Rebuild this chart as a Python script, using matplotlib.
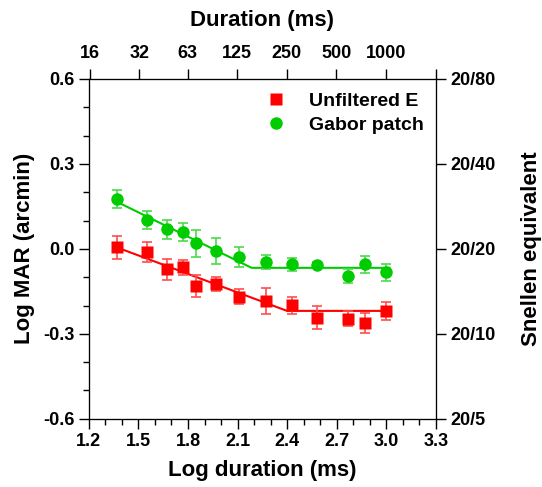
import matplotlib
matplotlib.use("Agg")
import matplotlib.pyplot as plt
from matplotlib.ticker import MultipleLocator

plt.rcParams['font.family'] = ['Liberation Sans', 'DejaVu Sans']
plt.rcParams['font.weight'] = 'bold'

# data
log_dur = [1.37, 1.55, 1.675, 1.77, 1.85, 1.97, 2.11, 2.275, 2.43, 2.58, 2.77, 2.87, 3.00]
mar_e = [0.005, -0.010, -0.072, -0.065, -0.131, -0.124, -0.169, -0.184, -0.199, -0.243, -0.246, -0.261, -0.219]
err_e = [0.040, 0.035, 0.037, 0.027, 0.040, 0.024, 0.027, 0.047, 0.030, 0.040, 0.025, 0.035, 0.033]
mar_g = [0.175, 0.102, 0.069, 0.058, 0.019, -0.007, -0.030, -0.046, -0.055, -0.058, -0.096, -0.055, -0.082]
err_g = [0.032, 0.032, 0.034, 0.032, 0.046, 0.046, 0.035, 0.026, 0.024, 0.010, 0.025, 0.030, 0.030]

# two-segment fits (start, knee, end)
fit_x_e = [1.37, 2.40, 3.02]
fit_y_e = [0.005, -0.219, -0.219]
fit_x_g = [1.37, 2.185, 3.02]
fit_y_g = [0.166, -0.067, -0.067]

top_ms = [16, 32, 63, 125, 250, 500, 1000]
top_pos = [1.204, 1.505, 1.799, 2.097, 2.398, 2.699, 3.0]
snellen = ['20/80', '20/40', '20/20', '20/10', '20/5']
snellen_pos = [0.6, 0.3, 0.0, -0.3, -0.6]

red = '#ff0000'
green = '#00cc00'

fig = plt.figure(figsize=(5.42, 4.87), dpi=100)
ax = fig.add_axes([0.164, 0.140, 0.640, 0.698])

ax.plot(fit_x_e, fit_y_e, color=red, lw=1.5, zorder=2)
ax.plot(fit_x_g, fit_y_g, color=green, lw=1.5, zorder=2)
ax.errorbar(log_dur, mar_e, yerr=err_e, fmt='none', ecolor=(1, 0.3, 0.3), elinewidth=1.2,
            capsize=3.5, capthick=1.2, zorder=3)
ax.errorbar(log_dur, mar_g, yerr=err_g, fmt='none', ecolor=(0.3, 0.85, 0.3), elinewidth=1.2,
            capsize=3.5, capthick=1.2, zorder=3)
ax.plot(log_dur, mar_e, 's', color=red, ms=8, mec='none', zorder=4, label='Unfiltered E')
ax.plot(log_dur, mar_g, 'o', color=green, ms=9, mec='none', zorder=4, label='Gabor patch')

ax.set_xlim(1.2, 3.3)
ax.set_ylim(-0.6, 0.6)
ax.xaxis.set_major_locator(MultipleLocator(0.3))
ax.xaxis.set_minor_locator(MultipleLocator(0.1))
ax.yaxis.set_major_locator(MultipleLocator(0.3))
ax.yaxis.set_minor_locator(MultipleLocator(0.1))
ax.set_xticklabels([f'{v:.1f}' for v in ax.get_xticks()])
ax.set_yticklabels([f'{v:.1f}' for v in ax.get_yticks()])
ax.tick_params(which='major', length=7, width=1, labelsize=13, direction='out')
ax.tick_params(which='minor', length=4, width=1, direction='out')
ax.set_xlabel('Log duration (ms)', fontsize=16, fontweight='bold', labelpad=7)
ax.set_ylabel('Log MAR (arcmin)', fontsize=16, fontweight='bold', labelpad=6)

leg = ax.legend(loc='upper right', frameon=False, fontsize=14, handletextpad=0.7,
                borderaxespad=0.2, labelspacing=0.35, bbox_to_anchor=(1.0, 0.995))

axt = ax.twiny()
axt.set_xlim(ax.get_xlim())
axt.set_xticks(top_pos + [3.3])
axt.set_xticklabels([str(v) for v in top_ms] + [''])
axt.tick_params(length=7, width=1, labelsize=13, direction='out', pad=5)
axt.set_xlabel('Duration (ms)', fontsize=16, fontweight='bold', labelpad=14)

axr = ax.twinx()
axr.set_ylim(ax.get_ylim())
axr.set_yticks(snellen_pos)
axr.set_yticklabels(snellen)
axr.tick_params(length=7, width=1, labelsize=13, direction='out')
axr.set_ylabel('Snellen equivalent', fontsize=16, fontweight='bold', labelpad=18)

fig.savefig('out.png', dpi=100)
